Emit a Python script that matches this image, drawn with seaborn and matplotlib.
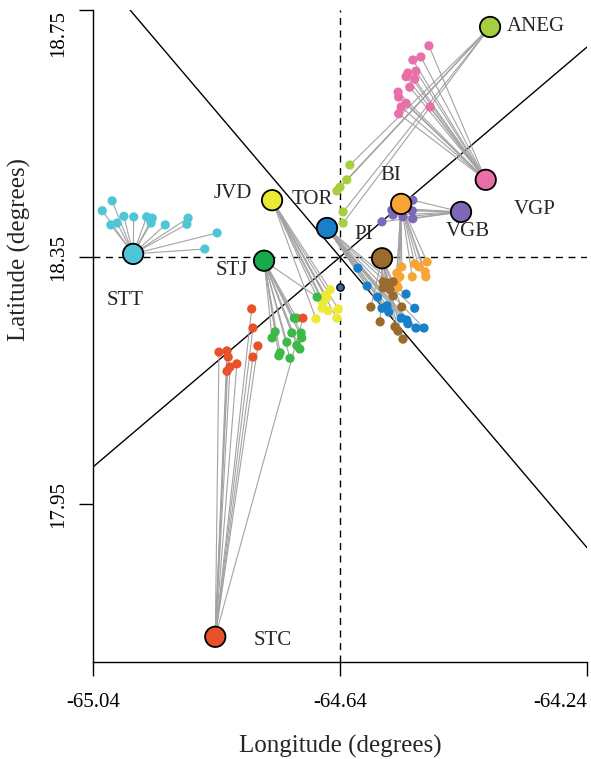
import matplotlib
matplotlib.use("Agg")
import matplotlib.pyplot as plt
import seaborn as sns
import pandas as pd

# ---------------- data ----------------
stations = ["ANEG", "VGP", "BI", "VGB", "TOR", "PI", "JVD", "STJ", "STT", "STC"]
station_lon = [-64.397, -64.404, -64.541, -64.444, -64.661, -64.572, -64.750, -64.763, -64.975, -64.842]
station_lat = [18.7225, 18.475, 18.436, 18.423, 18.397, 18.348, 18.442, 18.344, 18.355, 17.735]
station_colors = ["#a6cf40", "#ea6fa9", "#f7a535", "#7e67b6", "#1780c8",
                  "#9b6a2f", "#eee935", "#17a94a", "#4fc6d6", "#e8512a"]
point_colors = ["#a6cf40", "#ea6fa9", "#f7a535", "#7e67b6", "#1780c8",
                "#9b6a2f", "#eee935", "#3db94a", "#4fc6d6", "#e8512a"]
label_offsets = [(17, 0), (28, -30), (-10, 28), (7, -20), (-15, 28),
                 (-18, 24), (-39, 7), (-32, -10), (-8, -47), (57, -4)]
label_ha = ["left", "left", "center", "center", "center", "center", "center", "center", "center", "center"]

extra_lon = [-64.640]
extra_lat = [18.301]

aneg_lon = [-64.624, -64.629, -64.640, -64.645, -64.635, -64.635]
aneg_lat = [18.499, 18.475, 18.463, 18.457, 18.423, 18.405]

vgp_lon = [-64.496, -64.509, -64.522, -64.517, -64.530, -64.533, -64.519, -64.527,
           -64.546, -64.545, -64.494, -64.541, -64.545, -64.533]
vgp_lat = [18.692, 18.674, 18.669, 18.651, 18.648, 18.642, 18.638, 18.625,
           18.617, 18.609, 18.593, 18.593, 18.582, 18.599]

bi_lon = [-64.540, -64.548, -64.543, -64.519, -64.512, -64.499, -64.502, -64.501,
          -64.523, -64.546, -64.549]
bi_lat = [18.334, 18.324, 18.318, 18.339, 18.334, 18.342, 18.326, 18.318,
          18.318, 18.301, 18.308]

vgb_lon = [-64.522, -64.556, -64.523, -64.554, -64.538, -64.522, -64.572, -64.548]
vgb_lat = [18.442, 18.426, 18.425, 18.418, 18.415, 18.412, 18.407, 18.429]

tor_lon = [-64.611, -64.596, -64.579, -64.572, -64.561, -64.564, -64.533, -64.519,
           -64.541, -64.532, -64.530, -64.517, -64.504]
tor_lat = [18.332, 18.303, 18.285, 18.267, 18.261, 18.271, 18.290, 18.267,
           18.251, 18.248, 18.242, 18.235, 18.235]

pi_lon = [-64.570, -64.554, -64.564, -64.559, -64.554, -64.570, -64.590, -64.540,
          -64.575, -64.551, -64.546, -64.538]
pi_lat = [18.310, 18.310, 18.308, 18.297, 18.287, 18.300, 18.269, 18.269,
          18.245, 18.237, 18.230, 18.217]

jvd_lon = [-64.656, -64.664, -64.661, -64.668, -64.669, -64.659, -64.643, -64.679, -64.645]
jvd_lat = [18.297, 18.288, 18.284, 18.276, 18.267, 18.263, 18.266, 18.250, 18.251]

stj_lon = [-64.677, -64.710, -64.745, -64.750, -64.718, -64.726, -64.703, -64.702,
           -64.710, -64.705, -64.737, -64.721, -64.739, -64.714]
stj_lat = [18.285, 18.251, 18.229, 18.219, 18.227, 18.212, 18.227, 18.219,
           18.207, 18.201, 18.195, 18.186, 18.190, 18.251]

stt_lon = [-65.009, -65.025, -64.990, -64.974, -64.953, -64.944, -64.946, -65.001,
           -65.011, -64.923, -64.886, -64.888, -64.839, -64.859]
stt_lat = [18.441, 18.425, 18.416, 18.415, 18.415, 18.413, 18.405, 18.405,
           18.402, 18.402, 18.413, 18.403, 18.389, 18.363]

stc_lon = [-64.783, -64.781, -64.773, -64.781, -64.836, -64.823, -64.821, -64.807,
           -64.818, -64.823, -64.700]
stc_lat = [18.266, 18.235, 18.206, 18.188, 18.196, 18.198, 18.188, 18.177,
           18.172, 18.165, 18.251]

groups = {
    "ANEG": (aneg_lon, aneg_lat), "VGP": (vgp_lon, vgp_lat), "BI": (bi_lon, bi_lat),
    "VGB": (vgb_lon, vgb_lat), "TOR": (tor_lon, tor_lat), "PI": (pi_lon, pi_lat),
    "JVD": (jvd_lon, jvd_lat), "STJ": (stj_lon, stj_lat), "STT": (stt_lon, stt_lat),
    "STC": (stc_lon, stc_lat),
}

x_ticks = [-65.04, -64.64, -64.24]
y_ticks = [17.95, 18.35, 18.75]
center_lon, center_lat = -64.64, 18.35
slope_a = 0.85

# ---------------- tables ----------------
st = pd.DataFrame({"station": stations, "lon": station_lon, "lat": station_lat})
st_idx = {s: i for i, s in enumerate(stations)}

pts_rows, seg_rows = [], []
sid = 0
for name in stations:
    lons, lats = groups[name]
    i = st_idx[name]
    for lo, la in zip(lons, lats):
        pts_rows.append({"station": name, "lon": lo, "lat": la})
        seg_rows.append({"seg": sid, "lon": station_lon[i], "lat": station_lat[i], "o": 0})
        seg_rows.append({"seg": sid, "lon": lo, "lat": la, "o": 1})
        sid += 1
pts = pd.DataFrame(pts_rows)
segs = pd.DataFrame(seg_rows)

# ---------------- plot ----------------
sns.set_style("ticks")
plt.rcParams["font.family"] = ["Liberation Serif", "DejaVu Serif"]
plt.rcParams["axes.unicode_minus"] = False

fig = plt.figure(figsize=(5.91, 7.59), dpi=100)
ax = fig.add_axes([93 / 591, 97 / 759, 494 / 591, 652 / 759])

ax.axvline(center_lon, color="black", lw=1.0, ls=(0, (5, 4)), zorder=1)
ax.axhline(center_lat, color="black", lw=1.0, ls=(0, (5, 4)), zorder=1)
ax.axline((center_lon, center_lat), slope=slope_a, color="black", lw=1.0, zorder=1)
ax.axline((center_lon, center_lat), slope=-1 / slope_a, color="black", lw=1.0, zorder=1)

sns.lineplot(data=segs, x="lon", y="lat", units="seg", estimator=None, sort=False,
             color="#a3a3a3", lw=0.8, ax=ax, zorder=2, legend=False)

sns.scatterplot(data=pts, x="lon", y="lat", hue="station",
                palette=dict(zip(stations, point_colors)), s=44, linewidth=0,
                ax=ax, zorder=3, legend=False)

sns.scatterplot(data=st, x="lon", y="lat", hue="station",
                palette=dict(zip(stations, station_colors)), s=215,
                edgecolor="black", linewidth=1.3, ax=ax, zorder=4, legend=False)
ax.scatter(extra_lon, extra_lat, s=28, color="#3a64a8", edgecolor="black",
           linewidth=1.0, zorder=4)

for name, lo, la, off, ha in zip(stations, station_lon, station_lat, label_offsets, label_ha):
    ax.annotate(name, (lo, la), xytext=off, textcoords="offset pixels",
                ha=ha, va="center", fontsize=15, zorder=5)

ax.set_xlim(-65.04, -64.24)
ax.set_ylim(17.6942, 18.75)
ax.set_xticks(x_ticks)
ax.set_xticklabels([f"{v:.2f}" for v in x_ticks])
ax.set_yticks(y_ticks)
ax.set_yticklabels([f"{v:.2f}" for v in y_ticks])
ax.tick_params(axis="both", direction="out", length=10, width=1.0, labelsize=15,
               color="black", labelcolor="black")
ax.tick_params(axis="x", pad=12)
ax.tick_params(axis="y", pad=8, labelrotation=90)
for lab in ax.get_yticklabels():
    lab.set_va("center")
ax.get_yticklabels()[-1].set_va("top")
ax.get_xticklabels()[-1].set_ha("right")

sns.despine(ax=ax)
for sp in ("left", "bottom"):
    ax.spines[sp].set_linewidth(1.0)
    ax.spines[sp].set_color("black")

ax.set_xlabel("Longitude (degrees)", fontsize=18)
ax.set_ylabel("Latitude (degrees)", fontsize=18)
ax.xaxis.label.set_va("center")
ax.yaxis.label.set_va("center")
ax.xaxis.set_label_coords(0.5, -0.130)
ax.yaxis.set_label_coords(-0.148, 0.632)

fig.savefig("out.png", dpi=100)
